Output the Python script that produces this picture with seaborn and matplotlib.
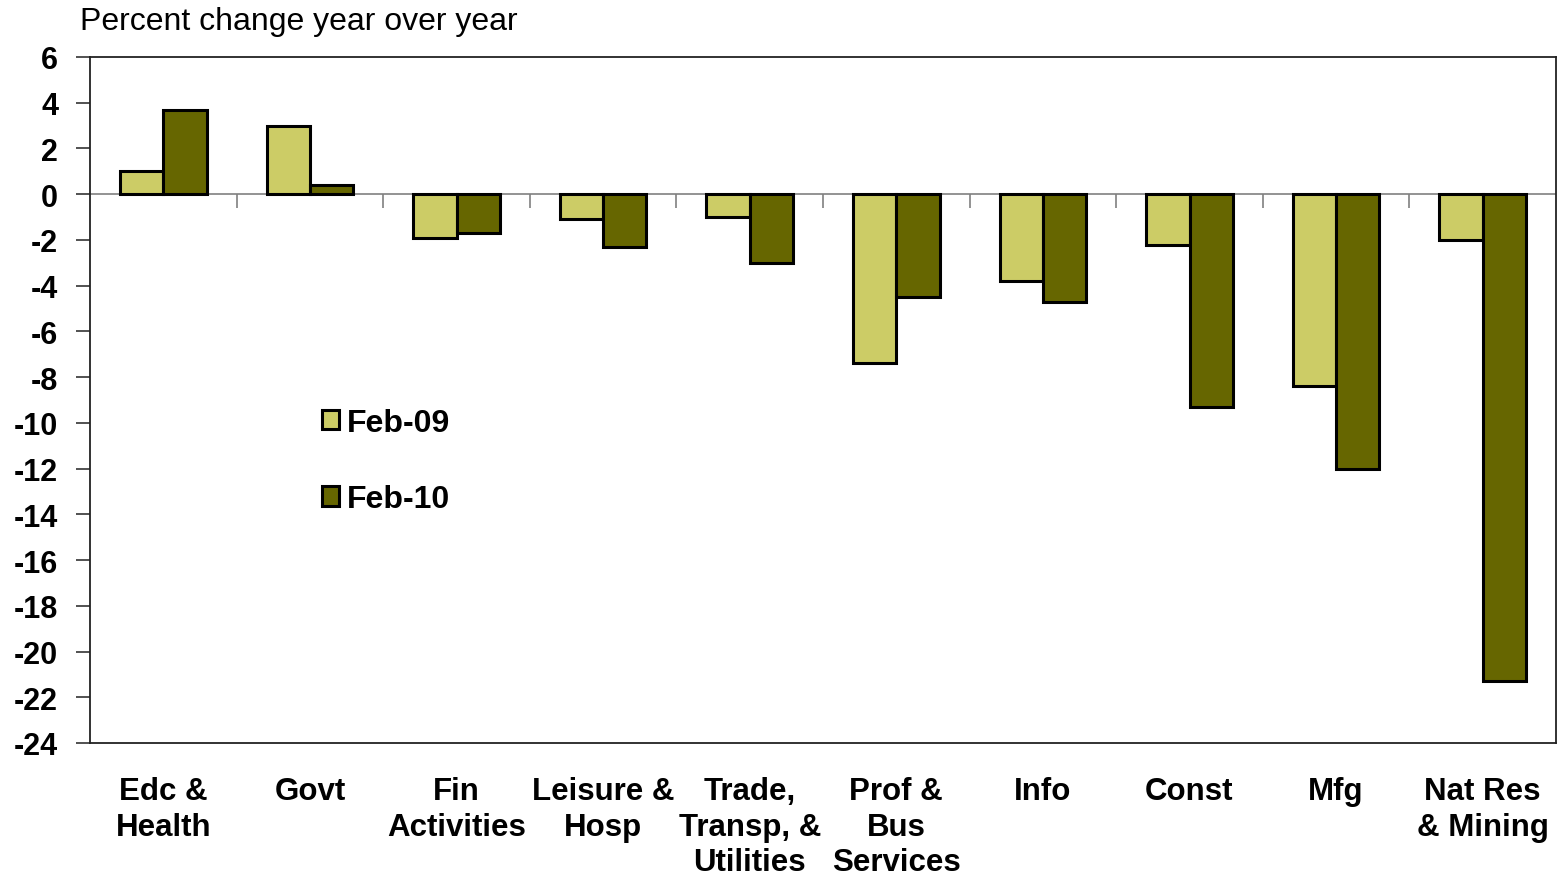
import matplotlib
matplotlib.use("Agg")
import matplotlib.pyplot as plt
import seaborn as sns
import pandas as pd
import numpy as np

# Employment change by industry, percent change year over year
categories = ["Edc &\nHealth", "Govt", "Fin\nActivities", "Leisure &\nHosp",
              "Trade,\nTransp, &\nUtilities", "Prof &\nBus\nServices", "Info",
              "Const", "Mfg", "Nat Res\n& Mining"]
series_names = ["Feb-09", "Feb-10"]
feb09 = [1.0, 3.0, -1.9, -1.1, -1.0, -7.4, -3.8, -2.2, -8.4, -2.0]
feb10 = [3.7, 0.4, -1.7, -2.3, -3.0, -4.5, -4.7, -9.3, -12.0, -21.3]
y_ticks = list(range(6, -25, -2))

colors = {"Feb-09": "#CCCC66", "Feb-10": "#666600"}

df = pd.DataFrame({
    "industry": categories * 2,
    "period": [series_names[0]] * len(categories) + [series_names[1]] * len(categories),
    "value": feb09 + feb10,
})

sns.set_theme(style="white")
plt.rcParams["font.family"] = ["Liberation Sans", "DejaVu Sans"]
plt.rcParams["axes.unicode_minus"] = False
plt.rcParams["text.color"] = "black"
plt.rcParams["xtick.color"] = "black"
plt.rcParams["ytick.color"] = "black"

fig = plt.figure(figsize=(15.6, 8.79), dpi=100)
ax = fig.add_axes([90 / 1560, 1 - 744 / 879, 1466 / 1560, 686 / 879])

sns.barplot(data=df, x="industry", y="value", hue="period", order=categories,
            hue_order=series_names, palette=colors, width=0.59,
            edgecolor="black", linewidth=2.2, saturation=1, ax=ax, zorder=3)

ax.set_xlim(-0.5, len(categories) - 0.5)
ax.set_ylim(-24, 6)
ax.set_yticks(y_ticks)
ax.set_yticklabels([str(t) for t in y_ticks], fontsize=22, fontweight="bold")
ax.set_xticks(range(len(categories)))
ax.set_xticklabels(categories, fontsize=22.5, fontweight="bold", linespacing=1.24)
ax.set_xlabel("")
ax.set_ylabel("")
ax.tick_params(axis="y", direction="out", length=10, width=1.2, color="#333333",
               labelcolor="black", pad=13, left=True)
ax.tick_params(axis="x", length=0, pad=24, labelcolor="black")

for s in ax.spines.values():
    s.set_visible(True)
    s.set_color("#222222")
    s.set_linewidth(1.3)

# zero line with boundary ticks between industries
ax.axhline(0, color="#808080", linewidth=1.2, zorder=2)
bounds = np.arange(len(categories) - 1) + 0.5
ax.plot(bounds, np.zeros_like(bounds), linestyle="", marker=3, markersize=10,
        markeredgewidth=1.2, color="#808080", zorder=2)

leg = ax.legend(loc="center left", bbox_to_anchor=(0.158, 0.411), frameon=False,
                borderpad=0, borderaxespad=0, handlelength=0.55, handleheight=0.55,
                handletextpad=0.25, labelspacing=1.45,
                prop={"size": 23, "weight": "bold"})
for h in leg.legend_handles:
    h.set_linewidth(2.2)
    h.set_edgecolor("black")
for t in leg.get_texts():
    t.set_color("black")

fig.text(80 / 1560, 1 - 30 / 879, "Percent change year over year", fontsize=23,
         ha="left", va="baseline", color="black")

fig.savefig("out.png", dpi=100)
